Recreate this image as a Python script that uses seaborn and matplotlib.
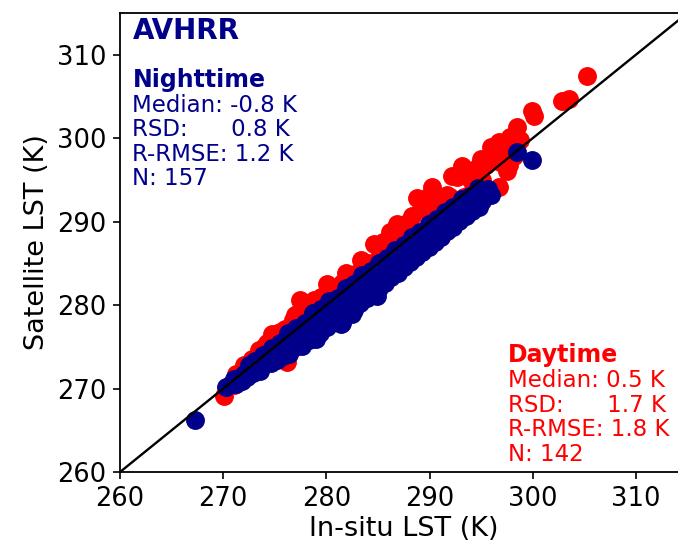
import matplotlib
matplotlib.use("Agg")
import matplotlib.pyplot as plt
import pandas as pd
import seaborn as sns

# In-situ vs satellite LST pairs (K), nighttime overpasses
night_pairs = [
    (267.3, 266.2),
    (270.3, 270.2), (270.8, 270.5), (271.2, 270.6), (271.5, 271.3), (271.8, 270.9),
    (272.0, 271.8), (272.3, 271.4), (272.6, 272.4), (272.9, 271.9), (273.1, 273.3),
    (273.3, 272.5), (273.6, 272.1), (273.8, 273.1),
    (274.0, 272.9), (274.2, 273.6), (274.4, 274.1), (274.6, 273.1), (274.8, 273.7),
    (275.0, 274.6), (275.2, 273.4), (275.4, 274.5), (275.6, 275.1), (275.8, 273.9),
    (276.1, 274.6), (276.2, 275.7), (276.4, 274.2), (276.7, 275.4), (276.8, 276.2),
    (277.0, 275.0), (277.3, 275.9), (277.4, 276.6), (277.6, 275.1),
    (277.9, 276.4), (278.0, 277.1), (278.3, 275.8), (278.4, 276.9), (278.5, 277.8),
    (278.9, 276.5), (279.1, 277.2), (279.2, 278.5), (279.4, 276.7), (279.7, 277.9),
    (279.8, 279.0), (280.1, 277.4), (280.2, 278.6), (280.5, 279.2), (280.6, 278.1),
    (280.9, 278.9), (281.0, 280.3), (281.3, 278.4), (281.4, 277.7), (281.7, 279.8),
    (281.8, 280.5), (282.1, 279.1), (282.2, 280.2), (282.5, 281.5), (282.7, 279.4),
    (282.8, 280.9), (283.1, 281.6), (283.3, 280.3), (283.4, 281.3), (283.7, 282.7),
    (283.9, 280.8), (284.1, 282.1), (284.3, 283.1), (284.5, 281.5), (284.6, 282.4),
    (284.9, 283.5), (285.1, 282.0), (285.2, 283.3), (285.5, 284.3),
    (285.7, 282.7), (285.8, 283.6), (286.1, 284.9), (286.3, 283.4), (286.4, 284.2),
    (286.6, 285.4), (286.9, 283.9), (287.0, 285.1), (287.3, 286.0), (287.5, 284.6),
    (287.6, 285.5), (287.9, 286.7), (288.1, 285.2), (288.2, 286.0), (288.5, 287.2),
    (288.7, 285.8), (288.8, 286.6), (289.1, 287.9),
    (289.3, 286.4), (289.4, 287.2), (289.7, 288.5), (289.9, 287.0), (290.0, 288.1),
    (290.3, 289.1), (290.5, 287.6), (290.6, 288.4), (290.9, 289.7), (291.1, 288.2),
    (291.2, 289.0), (291.5, 290.2), (291.7, 288.9), (291.8, 289.6), (292.1, 290.8),
    (292.3, 289.4), (292.4, 290.2), (292.7, 291.4), (292.9, 290.1), (293.0, 290.7),
    (293.3, 291.9), (293.5, 290.7), (293.6, 291.3), (293.9, 292.5), (294.1, 291.3),
    (294.2, 291.9), (294.6, 293.0), (294.8, 291.8), (295.1, 292.5), (295.3, 293.5),
    (295.7, 293.9), (296.0, 293.2),
    (298.5, 298.3), (299.9, 297.4),
    (271.0, 271.1), (272.5, 272.8), (273.9, 274.0), (274.7, 274.8), (275.5, 275.5),
    (276.3, 276.6), (277.1, 277.2), (277.9, 277.9), (278.7, 279.0), (279.5, 279.5),
    (280.3, 280.5), (281.1, 280.9), (281.9, 282.0), (282.7, 282.5), (283.5, 283.6),
    (284.3, 284.1), (285.1, 285.1), (285.9, 285.7), (286.7, 286.6), (287.5, 287.2),
    (288.3, 288.2), (289.1, 288.8), (289.9, 289.7), (290.7, 290.3), (291.5, 291.2),
    (292.3, 291.8), (293.1, 292.7), (293.9, 293.1), (294.7, 294.0), (279.0, 275.9),
    (281.5, 277.8), (282.5, 278.9), (284.9, 281.1),
]

# In-situ vs satellite LST pairs (K), daytime overpasses
day_pairs = [
    (270.1, 269.1), (271.2, 271.8), (272.0, 272.3), (272.8, 273.6), (273.5, 274.6),
    (274.2, 275.4), (274.7, 276.5), (275.5, 276.8), (276.0, 277.1), (276.2, 273.2),
    (276.8, 278.2), (277.0, 278.8), (277.4, 280.6), (277.2, 278.9), (278.3, 279.4),
    (278.8, 280.6), (279.5, 281.0), (280.1, 282.5), (280.8, 281.9), (281.5, 282.7),
    (282.2, 283.0), (282.8, 283.7), (283.4, 285.4), (283.8, 284.5), (284.6, 287.3),
    (285.2, 286.2), (285.8, 287.2), (286.2, 288.7), (286.8, 289.7), (287.3, 288.5),
    (287.6, 289.7), (288.3, 290.7), (288.8, 292.8), (289.2, 291.5), (289.9, 293.1),
    (290.2, 294.1), (290.9, 292.7), (291.5, 293.0), (291.7, 293.2), (292.2, 295.5),
    (292.7, 295.3), (293.1, 296.7), (293.4, 296.0), (293.8, 292.6), (294.5, 294.2),
    (295.1, 295.0), (295.5, 296.8), (296.0, 298.9), (296.0, 298.0), (296.7, 294.1),
    (296.7, 299.5), (296.8, 297.1), (297.0, 298.3), (297.5, 298.5), (297.5, 296.1),
    (297.7, 296.8), (297.8, 300.2), (298.2, 297.9), (298.5, 301.3), (298.8, 299.8),
    (299.9, 303.3), (300.1, 302.6), (302.8, 304.4), (303.5, 304.7), (305.3, 307.5),
    (271.0, 270.4), (271.6, 271.0), (272.3, 271.9), (272.9, 272.3), (273.4, 273.0),
    (274.0, 273.3), (274.5, 274.2), (275.1, 274.5), (275.7, 275.3), (276.2, 275.6),
    (276.8, 276.5), (277.3, 276.7), (277.9, 277.6), (278.4, 277.8), (279.0, 278.7),
    (279.5, 278.9), (280.1, 279.8), (280.6, 280.1), (281.2, 280.9), (281.7, 281.1),
    (282.3, 282.0), (282.8, 282.3), (283.4, 283.1), (283.9, 283.3), (284.5, 284.2),
    (285.0, 284.4), (285.6, 285.3), (286.1, 285.5), (286.7, 286.4), (287.2, 286.6),
    (287.8, 287.5), (288.3, 287.7), (288.9, 288.6), (289.4, 288.8), (290.0, 289.7),
    (290.5, 290.0), (291.1, 290.8), (291.6, 291.0), (292.2, 291.9), (292.7, 292.1),
    (293.3, 293.0), (293.8, 293.2), (294.4, 294.1), (294.9, 294.3),
    (272.0, 272.8), (273.0, 272.6), (274.0, 275.0), (275.0, 274.1), (276.0, 276.9),
    (277.0, 276.3), (278.0, 279.1), (279.0, 277.6), (280.0, 281.0), (281.0, 279.6),
    (282.0, 282.8), (283.0, 281.7), (284.0, 285.0), (285.0, 283.4), (286.0, 287.0),
    (287.0, 285.4), (288.0, 289.0), (289.0, 287.3), (290.0, 291.0), (291.0, 289.1),
    (292.0, 293.0), (293.0, 291.0), (294.0, 295.0), (275.3, 273.9), (279.8, 277.9),
    (283.6, 281.6), (287.7, 285.9), (291.3, 289.6), (295.0, 297.5), (294.6, 296.4),
    (290.6, 292.2), (285.5, 287.6), (281.9, 283.8),
]

axis_limits = (260, 315)
tick_values = [260, 270, 280, 290, 300, 310]

night_stats = ["Median: -0.8 K", "RSD:      0.8 K", "R-RMSE: 1.2 K", f"N: {len(night_pairs)}"]
day_stats = ["Median: 0.5 K", "RSD:      1.7 K", "R-RMSE: 1.8 K", f"N: {len(day_pairs)}"]

night = pd.DataFrame(night_pairs, columns=["insitu", "satellite"])
day = pd.DataFrame(day_pairs, columns=["insitu", "satellite"])

sns.set_theme(style="ticks")
plt.rcParams["font.family"] = ["DejaVu Sans"]

NAVY = "#00008b"
RED = "#ff0000"

fig = plt.figure(figsize=(6.78, 5.46), dpi=100)
ax = fig.add_axes([0.177, 0.1355, 0.837, 0.8407])

sns.scatterplot(data=day, x="insitu", y="satellite", color=RED, s=185,
                linewidth=0, ax=ax, zorder=2)
sns.scatterplot(data=night, x="insitu", y="satellite", color=NAVY, s=185,
                linewidth=0, ax=ax, zorder=3)

# 1:1 reference line
ax.plot(axis_limits, axis_limits, color="black", lw=1.7, zorder=4)

ax.set_xlim(*axis_limits)
ax.set_ylim(*axis_limits)
ax.set_xticks(tick_values)
ax.set_yticks(tick_values)
ax.tick_params(axis="both", labelsize=18.5, length=5, width=1.2, pad=5,
               colors="black", labelcolor="black")
for sp in ax.spines.values():
    sp.set_linewidth(1.3)
    sp.set_color("black")

ax.set_xlabel("In-situ LST (K)", fontsize=19.5, labelpad=3, color="black")
ax.set_ylabel("Satellite LST (K)", fontsize=19.5, labelpad=5, color="black")

# Annotation blocks
ax.text(261.2, 314.5, "AVHRR", color=NAVY, fontsize=20, fontweight="bold", va="top")
ax.text(261.2, 308.4, "Nighttime", color=NAVY, fontsize=17, fontweight="bold", va="top")
ax.text(261.2, 305.3, "\n".join(night_stats), color=NAVY, fontsize=16.5,
        va="top", linespacing=1.08)

ax.text(297.6, 275.4, "Daytime", color=RED, fontsize=17, fontweight="bold", va="top")
ax.text(297.6, 272.3, "\n".join(day_stats), color=RED, fontsize=16.5,
        va="top", linespacing=1.08)

fig.savefig("out.png", dpi=100)
